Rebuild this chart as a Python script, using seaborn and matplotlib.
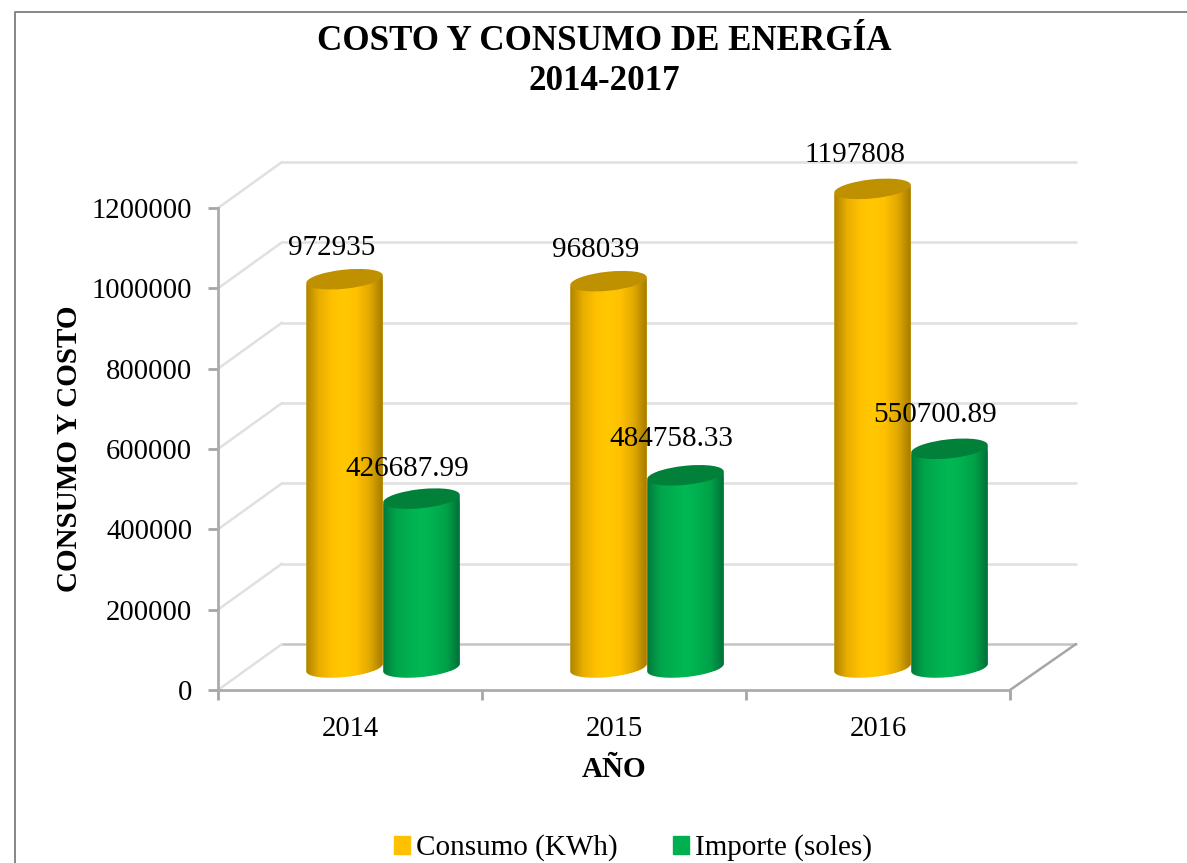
import numpy as np
import pandas as pd
import matplotlib
matplotlib.use("Agg")
import matplotlib.pyplot as plt
from matplotlib.colors import LinearSegmentedColormap
from matplotlib.lines import Line2D
from matplotlib.patches import Ellipse, Patch, Polygon
from matplotlib.transforms import IdentityTransform
import seaborn as sns

# data
years = ["2014", "2015", "2016"]
consumo = [972935, 968039, 1197808]
importe = [426687.99, 484758.33, 550700.89]
consumo_labels = ["972935", "968039", "1197808"]
importe_labels = ["426687.99", "484758.33", "550700.89"]
y_ticks = [0, 200000, 400000, 600000, 800000, 1000000, 1200000]
series_names = ["Consumo (KWh)", "Importe (soles)"]

# styles
W, H = 1187, 863
serif = "Liberation Serif"
colors = {"Consumo (KWh)": "#FFC000", "Importe (soles)": "#00B050"}
top_colors = ["#BF9000", "#008038"]
side_ramps = [["#B08400", "#E8AE00", "#FFC000", "#FFC800", "#FFC000", "#E0A800", "#A67C00"],
              ["#007A3C", "#00A44A", "#00B050", "#00B854", "#00B050", "#00A048", "#00703A"]]
# pixel shift of each value label from its bar top
label_shift = [[(-13, 32), (-13, 32), (-18, 35)], [(-14, 31), (-14, 37), (-14, 35)]]

sns.set_theme(style="white")
plt.rcParams["font.family"] = [serif, "DejaVu Sans"]
plt.rcParams["figure.dpi"] = 100
plt.rcParams["savefig.dpi"] = 100

df = pd.DataFrame({
    "year": years * 2,
    "serie": [series_names[0]] * 3 + [series_names[1]] * 3,
    "valor": consumo + importe,
})


def box(x0, x1, ytop, ybot):
    # pixel box (y from the top of the image) to figure fractions
    return [x0 / W, 1 - ybot / H, (x1 - x0) / W, (ybot - ytop) / H]


fig = plt.figure(figsize=(W / 100, H / 100), facecolor="white")
ymax = 1200000

# back wall with the gridlines
ax_back = fig.add_axes(box(282, 1076, 162, 644), zorder=1)
ax_back.set_ylim(0, ymax)
ax_back.set_xlim(0, 1)
ax_back.set_yticks(y_ticks)
ax_back.set_xticks([])
ax_back.set_yticklabels([])
ax_back.grid(axis="y", color="#E0E0E0", lw=1.8)
for gl, t in zip(ax_back.get_ygridlines(), y_ticks):
    gl.set_clip_on(False)
    if t == 0:
        gl.set_color("#C4C4C4")
ax_back.tick_params(left=False)
sns.despine(ax=ax_back, left=True, bottom=True)

# front axis
ax = fig.add_axes(box(218, 1010, 208, 690), zorder=2)
ax.patch.set_alpha(0)
ax.set_xlim(-0.5, 2.5)
ax.set_ylim(0, ymax)
ax.set_yticks(y_ticks)
ax.set_yticklabels([str(t) for t in y_ticks], fontsize=20.6, color="black")
ax.set_xticks(range(3))
ax.set_xticklabels(years, fontsize=20.6, color="black")
ax.set_xticks([-0.5, 0.5, 1.5, 2.5], minor=True)
ax.tick_params(axis="x", which="major", length=0, pad=18.5)
ax.tick_params(axis="x", which="minor", length=7, width=2, color="#A6A6A6", direction="out", bottom=True)
ax.tick_params(axis="y", length=7, width=2, color="#A6A6A6", direction="out", pad=11.5, left=True)
sns.despine(ax=ax)
for s in ["left", "bottom"]:
    ax.spines[s].set_color("#ABABAB")
    ax.spines[s].set_linewidth(2)
ax.set_xlabel("AÑO", fontsize=21, fontweight="bold", color="black", labelpad=10)
ax.set_ylabel("CONSUMO Y COSTO", fontsize=21, fontweight="bold", color="black", labelpad=6)

# side lines joining the front axis to the wall
for t in y_ticks:
    px, py = ax.transData.transform((-0.5, t))
    fig.add_artist(Line2D([px, px + 64], [py, py + 46], transform=IdentityTransform(),
                          color="#E0E0E0", lw=1.8, zorder=1.5))
px, py = ax.transData.transform((2.5, 0))
fig.add_artist(Line2D([px, px + 66], [py, py + 46], transform=IdentityTransform(),
                      color="#A6A6A6", lw=1.8, zorder=1.5))

# bars, moved into the depth of the box
ax_bars = fig.add_axes(box(251, 1043, 189, 671), zorder=3)
ax_bars.patch.set_alpha(0)
sns.barplot(data=df, x="year", y="valor", hue="serie", palette=colors, width=0.583, gap=0,
            legend=False, saturation=1, ax=ax_bars)
ax_bars.set_xlim(-0.5, 2.5)
ax_bars.set_ylim(0, ymax)
ax_bars.axis("off")
fig.canvas.draw()

b_semi = 9.5
tilt = np.deg2rad(6)


def ring(cx, cy, a, t):
    return np.column_stack([
        cx + a * np.cos(t) * np.cos(tilt) - b_semi * np.sin(t) * np.sin(tilt),
        cy + a * np.cos(t) * np.sin(tilt) + b_semi * np.sin(t) * np.cos(tilt),
    ])


for i, cont in enumerate(ax_bars.containers):
    cmap = LinearSegmentedColormap.from_list("side", side_ramps[i])
    grad = np.linspace(0, 1, 128).reshape(1, -1)
    texts = consumo_labels if i == 0 else importe_labels
    for j, bar in enumerate(cont):
        x0, w, h = bar.get_x(), bar.get_width(), bar.get_height()
        (lx, by), (rx, ty) = ax_bars.transData.transform([(x0, 0), (x0 + w, h)])
        cx, a = (lx + rx) / 2, (rx - lx) / 2
        # body of the cylinder: top edge and lower arc of the base (drawn a little higher)
        outline = np.vstack([
            ring(cx, ty, a, np.array([np.pi])),
            ring(cx, ty, a, np.array([0.0])),
            ring(cx, by + 3.5, a, np.linspace(2 * np.pi, np.pi, 60)),
        ])
        side = Polygon(outline, closed=True, transform=IdentityTransform(), fc="none", ec="none")
        ax_bars.add_patch(side)
        side.set_clip_on(False)
        bar.set_clip_path(side)
        im = ax_bars.imshow(grad, cmap=cmap, aspect="auto", zorder=3,
                            extent=[x0, x0 + w, -60000, h + 40000])
        im.set_clip_box(fig.bbox)
        im.set_clip_path(side)
        ax_bars.add_patch(Ellipse((cx, ty + 1), 2 * a, 2 * b_semi, angle=np.rad2deg(tilt),
                                  transform=IdentityTransform(), fc=top_colors[i], ec="none",
                                  zorder=4, clip_on=False))
        dx, dy = label_shift[i][j]
        ax_bars.annotate(texts[j], (x0 + w / 2, h), xytext=(dx * 0.72, dy * 0.72),
                         textcoords="offset points", ha="center", va="center",
                         fontsize=21, color="black", zorder=6)
ax_bars.set_xlim(-0.5, 2.5)
ax_bars.set_ylim(0, ymax)

# title
fig.text(604 / W, 1 - 41 / H, "COSTO Y CONSUMO DE ENERGÍA", fontsize=25.2, fontweight="bold",
         color="black", ha="center", va="center")
fig.text(604 / W, 1 - 81 / H, "2014-2017", fontsize=25.2, fontweight="bold",
         color="black", ha="center", va="center")

# legend
handles = [Patch(color=colors[n], label=n) for n in series_names]
fig.legend(handles=handles, loc="center", bbox_to_anchor=(633 / W, 1 - 848 / H), ncol=2, frameon=False,
           fontsize=21, handlelength=0.55, handleheight=0.55, handletextpad=0.2, columnspacing=1.9,
           labelcolor="black")

# chart border, cut by the image on the right and at the bottom
fig.add_artist(Line2D([15, 15, W], [0, H - 12, H - 12], transform=IdentityTransform(),
                      color="#868686", lw=1.4))

fig.savefig("out.png", dpi=100)
